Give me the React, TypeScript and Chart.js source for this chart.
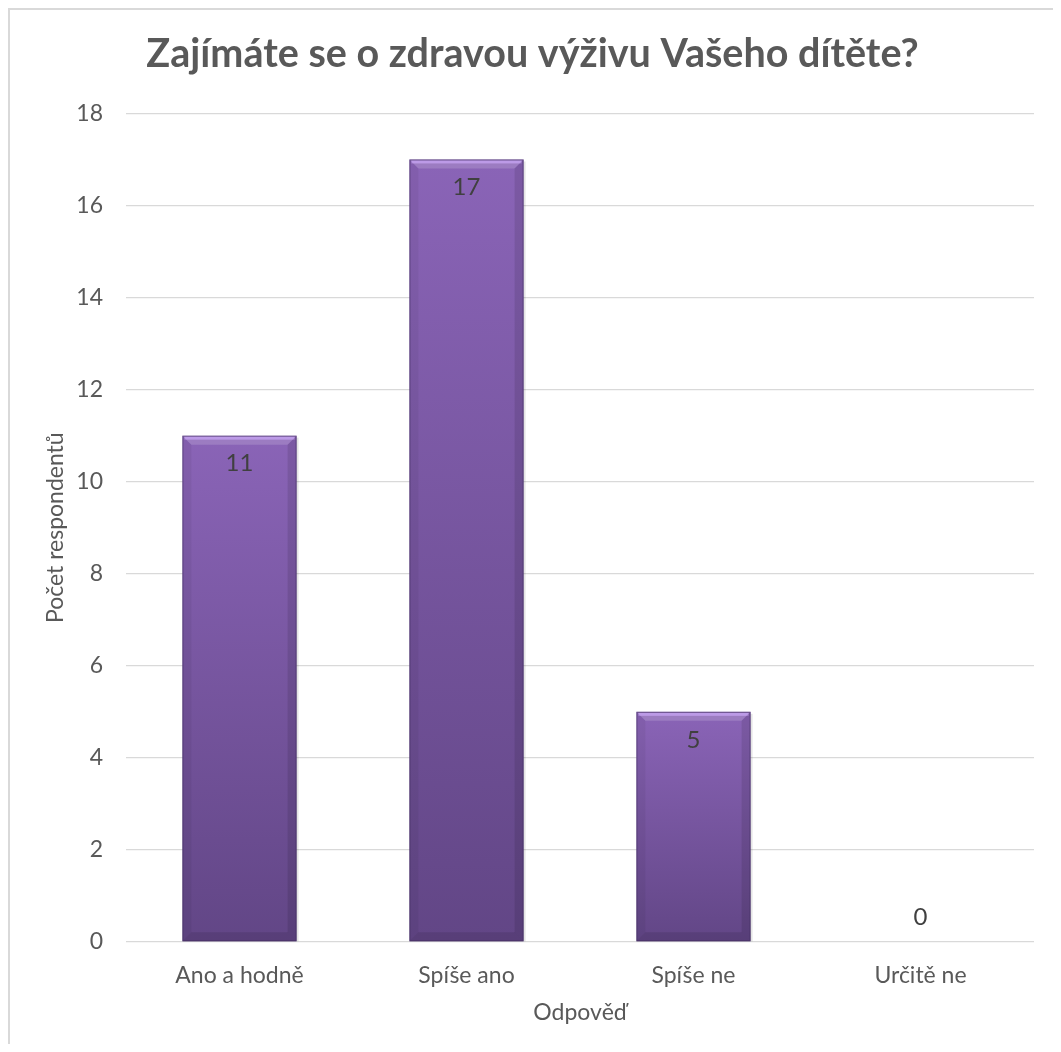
import React, { useEffect, useRef } from "react";
import { Chart, registerables } from "chart.js";

Chart.register(...registerables);

const titleText = "Zajímáte se o zdravou výživu Vašeho dítěte?";
const categories = ["Ano a hodně", "Spíše ano", "Spíše ne", "Určitě ne"];
const counts = [11, 17, 5, 0];
const yMin = 0;
const yMax = 18;
const yStep = 2;
const xTitle = "Odpověď";
const yTitle = "Počet respondentů";

const FONT = "Lato, 'Open Sans', sans-serif";
const TEXT = "#595959";

const bevelPlugin = {
  id: "bevel",
  afterDatasetsDraw(chart: any) {
    const ctx = chart.ctx;
    const meta = chart.getDatasetMeta(0);
    meta.data.forEach((el: any) => {
      const p = el.getProps(["x", "y", "base", "width"], true);
      const h = p.base - p.y;
      if (h < 2) return;
      const x0 = p.x - p.width / 2;
      const x1 = p.x + p.width / 2;
      const y0 = p.y;
      const y1 = p.base;
      const b = Math.min(9, h / 2);
      ctx.save();
      ctx.fillStyle = "rgba(0,0,0,0.10)";
      ctx.fillRect(x1, y0 + 2, 2, h - 2);
      ctx.beginPath();
      ctx.moveTo(x0, y0);
      ctx.lineTo(x1, y0);
      ctx.lineTo(x1 - b, y0 + b);
      ctx.lineTo(x0 + b, y0 + b);
      ctx.closePath();
      ctx.fillStyle = "rgba(255,255,255,0.16)";
      ctx.fill();
      ctx.fillStyle = "rgba(210,175,255,0.6)";
      ctx.fillRect(x0 + 2, y0 + 1, p.width - 4, 3);
      ctx.beginPath();
      ctx.moveTo(x0, y0);
      ctx.lineTo(x0 + b, y0 + b);
      ctx.lineTo(x0 + b, y1 - b);
      ctx.lineTo(x0, y1);
      ctx.closePath();
      ctx.fillStyle = "rgba(0,0,0,0.05)";
      ctx.fill();
      ctx.beginPath();
      ctx.moveTo(x1, y0);
      ctx.lineTo(x1 - b, y0 + b);
      ctx.lineTo(x1 - b, y1 - b);
      ctx.lineTo(x1, y1);
      ctx.closePath();
      ctx.fillStyle = "rgba(0,0,0,0.10)";
      ctx.fill();
      ctx.beginPath();
      ctx.moveTo(x0, y1);
      ctx.lineTo(x0 + b, y1 - b);
      ctx.lineTo(x1 - b, y1 - b);
      ctx.lineTo(x1, y1);
      ctx.closePath();
      ctx.fillStyle = "rgba(0,0,0,0.10)";
      ctx.fill();
      ctx.strokeStyle = "rgba(60,40,90,0.55)";
      ctx.lineWidth = 1;
      ctx.strokeRect(x0 + 0.5, y0 + 0.5, p.width - 1, h - 1);
      ctx.restore();
    });
  },
};

const valueLabelPlugin = {
  id: "valueLabels",
  afterDatasetsDraw(chart: any) {
    const ctx = chart.ctx;
    const meta = chart.getDatasetMeta(0);
    const ds = chart.data.datasets[0];
    ctx.save();
    ctx.font = `24px ${FONT}`;
    ctx.fillStyle = "#404040";
    ctx.textAlign = "center";
    ctx.textBaseline = "middle";
    meta.data.forEach((el: any, i: number) => {
      const v = ds.data[i] as number;
      const p = el.getProps(["x", "y", "base"], true);
      const y = v > 0 ? p.y + 28 : p.base - 25;
      ctx.fillText(String(v), p.x, y);
    });
    ctx.restore();
  },
};

export default function App() {
  const ref = useRef<HTMLCanvasElement | null>(null);

  useEffect(() => {
    if (!ref.current) return;
    const chart = new Chart(ref.current, {
      type: "bar",
      data: {
        labels: categories,
        datasets: [
          {
            label: yTitle,
            data: counts,
            backgroundColor: (c: any) => {
              const ch = c.chart;
              if (!ch.chartArea || c.type !== "data" || !ch.scales.y) return "#7a58a6";
              const ys = ch.scales.y;
              const top = ys.getPixelForValue(c.raw as number);
              const bottom = ys.getPixelForValue(0);
              if (!isFinite(top) || !isFinite(bottom) || bottom - top < 1) return "#7a58a6";
              const g = ch.ctx.createLinearGradient(0, top, 0, bottom);
              g.addColorStop(0, "#8a64b7");
              g.addColorStop(1, "#624686");
              return g;
            },
            borderWidth: 0,
            barPercentage: 0.503,
            categoryPercentage: 1,
          },
        ],
      },
      options: {
        responsive: false,
        animation: false,
        layout: { padding: { left: 21, right: 19, top: 0, bottom: 0 } },
        plugins: {
          legend: { display: false },
          tooltip: { enabled: false },
          title: {
            display: true,
            text: titleText,
            color: TEXT,
            font: { family: FONT, size: 39.5, weight: "bold" },
            padding: { top: 21, bottom: 35 },
          },
        },
        scales: {
          x: {
            grid: { display: false, drawTicks: false },
            border: { display: false },
            ticks: { color: TEXT, font: { family: FONT, size: 23 }, padding: 20 },
            title: {
              display: true,
              text: xTitle,
              color: TEXT,
              font: { family: FONT, size: 23 },
              padding: { top: 0, bottom: 18 },
            },
            afterFit: (s: any) => {
              s.height = 102;
            },
          },
          y: {
            min: yMin,
            max: yMax,
            grid: { color: "#d9d9d9", lineWidth: 1.3, drawTicks: false },
            border: { display: false },
            ticks: { stepSize: yStep, color: TEXT, font: { family: FONT, size: 23 }, padding: 23 },
            title: {
              display: true,
              text: yTitle,
              color: TEXT,
              font: { family: FONT, size: 23 },
              padding: { top: 11, bottom: 0 },
            },
            afterFit: (s: any) => {
              s.width = 95;
            },
          },
        },
      },
      plugins: [bevelPlugin, valueLabelPlugin],
    } as any);
    return () => chart.destroy();
  }, []);

  return (
    <div
      style={{
        boxSizing: "border-box",
        width: 1045,
        height: 1036,
        borderTop: "2px solid #d9d9d9",
        borderLeft: "2px solid #d9d9d9",
        overflow: "hidden",
        background: "#fff",
      }}
    >
      <canvas ref={ref} width={1043} height={1034} style={{ display: "block" }} />
    </div>
  );
}
